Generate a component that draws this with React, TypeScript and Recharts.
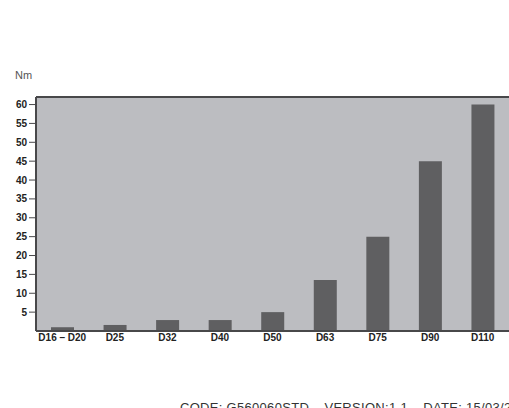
import React from 'react';
import { BarChart, Bar, XAxis, YAxis, CartesianGrid, ReferenceLine } from 'recharts';

const sizes = ['D16 – D20', 'D25', 'D32', 'D40', 'D50', 'D63', 'D75', 'D90', 'D110'];
const torque = [1, 1.6, 2.9, 2.9, 5, 13.5, 25, 45, 60];
const yTicks = [5, 10, 15, 20, 25, 30, 35, 40, 45, 50, 55, 60];
const yMax = 62;

const data = sizes.map((name, i) => ({ name, value: torque[i] }));

export default function App() {
  return (
    <div
      style={{
        position: 'absolute',
        left: 0,
        top: 0,
        width: 509,
        height: 408,
        background: '#fff',
        overflow: 'hidden',
        fontFamily: '"Liberation Sans", Arial, sans-serif',
      }}
    >
      <div style={{ position: 'absolute', left: 15, top: 70, fontSize: 11, lineHeight: '11px', color: '#555' }}>Nm</div>
      <BarChart width={509} height={408} data={data} margin={{ top: 97, right: 0, left: 0, bottom: 57 }}>
        <CartesianGrid horizontal={false} vertical={false} fill="#bcbdc1" stroke="none" />
        <YAxis
          width={36}
          domain={[0, yMax]}
          ticks={yTicks}
          interval={0}
          axisLine={{ stroke: '#48484a', strokeWidth: 2 }}
          tickLine={{ stroke: '#48484a', strokeWidth: 1 }}
          tickSize={7}
          tickMargin={2}
          tick={{ fill: '#222', fontSize: 10, fontWeight: 700 }}
        />
        <XAxis
          dataKey="name"
          height={20}
          interval={0}
          axisLine={{ stroke: '#48484a', strokeWidth: 2 }}
          tickLine={false}
          tickSize={0}
          tickMargin={3}
          tick={{ fill: '#222', fontSize: 10, fontWeight: 700 }}
        />
        <ReferenceLine y={yMax} stroke="#48484a" strokeWidth={2} />
        <Bar dataKey="value" fill="#5f5f61" barSize={23} isAnimationActive={false} />
      </BarChart>
      <div
        style={{
          position: 'absolute',
          left: 180,
          top: 401,
          fontSize: 13,
          lineHeight: '13px',
          letterSpacing: 0.3,
          color: '#333',
          whiteSpace: 'nowrap',
        }}
      >
        CODE: G560060STD – VERSION:1.1 – DATE: 15/03/2013
      </div>
    </div>
  );
}
